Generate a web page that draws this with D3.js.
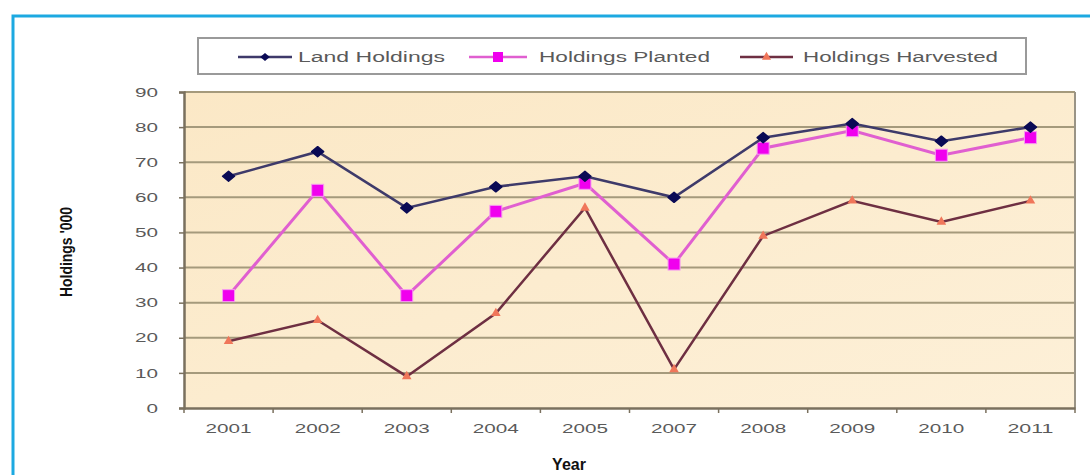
<!DOCTYPE html>
<html><head><meta charset="utf-8">
<script src="https://cdn.jsdelivr.net/npm/d3@7"></script>
<style>
html,body{margin:0;padding:0;background:#fff;}
svg{display:block;font-family:"Liberation Sans",Arial,sans-serif;}
</style></head>
<body>
<svg id="chart" width="1090" height="475"></svg>
<script>
const years = ["2001","2002","2003","2004","2005","2007","2008","2009","2010","2011"];
const landHoldings = [66,73,57,63,66,60,77,81,76,80];
const holdingsPlanted = [32,62,32,56,64,41,74,79,72,77];
const holdingsHarvested = [19,25,9,27,57,11,49,59,53,59];
const yTicks = [0,10,20,30,40,50,60,70,80,90];
const seriesNames = ["Land Holdings","Holdings Planted","Holdings Harvested"];

const svg = d3.select("#chart");
const m = {left:184, top:92, right:1075, bottom:408};

// frame
svg.append("rect").attr("x",13).attr("y",16).attr("width",1100).attr("height",480)
  .attr("fill","#fff").attr("stroke","#1ca9e1").attr("stroke-width",3);

const defs = svg.append("defs");
const grad = defs.append("linearGradient").attr("id","bg").attr("x1",0).attr("y1",0).attr("x2",1).attr("y2",1);
grad.append("stop").attr("offset","0%").attr("stop-color","#fbe8c6");
grad.append("stop").attr("offset","100%").attr("stop-color","#fdf0d8");

const x = d3.scaleBand().domain(years).range([m.left,m.right]);
const y = d3.scaleLinear().domain([0,90]).range([m.bottom,m.top]);

svg.append("rect").attr("x",m.left).attr("y",m.top).attr("width",m.right-m.left).attr("height",m.bottom-m.top)
  .attr("fill","url(#bg)");

// gridlines
svg.append("g").selectAll("line").data(yTicks.filter(d=>d>0)).join("line")
  .attr("x1",m.left).attr("x2",m.right).attr("y1",d=>y(d)).attr("y2",d=>y(d))
  .attr("stroke","#a59a7c").attr("stroke-width",2);
// right border
svg.append("line").attr("x1",m.right).attr("x2",m.right).attr("y1",m.top).attr("y2",m.bottom)
  .attr("stroke","#9a9486").attr("stroke-width",2);

// y axis
const ya = svg.append("g").attr("transform",`translate(${m.left},0)`)
  .call(d3.axisLeft(y).tickValues(yTicks).tickSize(5).tickPadding(21));
ya.select(".domain").attr("stroke","#7a705e").attr("stroke-width",2.5);
ya.selectAll(".tick line").attr("stroke","#7a705e").attr("stroke-width",1.5);
ya.selectAll("text").attr("fill","#5a5a5a").style("font-size","13px")
  .attr("textLength",d=>String(d).length*11.5).attr("lengthAdjust","spacingAndGlyphs");

// x axis
const xa = svg.append("g").attr("transform",`translate(0,${m.bottom})`)
  .call(d3.axisBottom(x).tickSize(0).tickPadding(16));
xa.select(".domain").attr("stroke","#7a705e").attr("stroke-width",2.5);
xa.selectAll("text").attr("fill","#5a5a5a").style("font-size","13px")
  .attr("textLength",46).attr("lengthAdjust","spacingAndGlyphs");
const bounds = years.map(d=>x(d)).concat([m.right]);
xa.append("g").selectAll("line").data(bounds).join("line")
  .attr("x1",d=>d).attr("x2",d=>d).attr("y1",0).attr("y2",5)
  .attr("stroke","#7a705e").attr("stroke-width",1.5);

// axis titles
svg.append("text").attr("transform","translate(72,252) rotate(-90)").attr("text-anchor","middle")
  .style("font-size","16px").style("font-weight","bold").attr("fill","#111")
  .attr("textLength",90).attr("lengthAdjust","spacingAndGlyphs").text("Holdings '000");
svg.append("text").attr("x",569).attr("y",470).attr("text-anchor","middle")
  .style("font-size","16px").style("font-weight","bold").attr("fill","#111").text("Year");

const cx = d => x(d)+x.bandwidth()/2;
const line = d3.line().x((d,i)=>cx(years[i])).y(d=>y(d));
const diamond = "M0,-5L6,0L0,5L-6,0Z";

// harvested
svg.append("path").datum(holdingsHarvested).attr("d",line).attr("fill","none")
  .attr("stroke","#6e2f42").attr("stroke-width",2.5);
svg.append("g").selectAll("path").data(holdingsHarvested).join("path")
  .attr("transform",(d,i)=>`translate(${cx(years[i])},${y(d)})`)
  .attr("d",d3.symbol(d3.symbolTriangle,40)).attr("fill","#f0765a");

// planted
svg.append("path").datum(holdingsPlanted).attr("d",line).attr("fill","none")
  .attr("stroke","#e05fd0").attr("stroke-width",3);
svg.append("g").selectAll("rect").data(holdingsPlanted).join("rect")
  .attr("x",(d,i)=>cx(years[i])-6).attr("y",d=>y(d)-6).attr("width",12).attr("height",12)
  .attr("fill","#f000ee").attr("stroke","#f59bf0").attr("stroke-width",1);

// land
svg.append("path").datum(landHoldings).attr("d",line).attr("fill","none")
  .attr("stroke","#3e3a6a").attr("stroke-width",2.5);
svg.append("g").selectAll("path").data(landHoldings).join("path")
  .attr("transform",(d,i)=>`translate(${cx(years[i])},${y(d)})`)
  .attr("d",diamond).attr("fill","#0a0a55").attr("stroke","#0a0a55").attr("stroke-width",1.5)
  .attr("stroke-linejoin","round");

// legend
const lg = svg.append("g");
lg.append("rect").attr("x",198).attr("y",38).attr("width",828).attr("height",36)
  .attr("fill","#fff").attr("stroke","#9a9a9a").attr("stroke-width",2);
const items = [
  {name:seriesNames[0], x0:238, x1:292, tx:298, tw:147, color:"#3e3a6a", mk:"diamond", mc:"#0a0a55"},
  {name:seriesNames[1], x0:469, x1:527, tx:539, tw:171, color:"#e05fd0", mk:"square", mc:"#f000ee"},
  {name:seriesNames[2], x0:740, x1:793, tx:803, tw:195, color:"#6e2f42", mk:"tri", mc:"#f0765a"}
];
items.forEach(it=>{
  const ly = 57;
  lg.append("line").attr("x1",it.x0).attr("x2",it.x1).attr("y1",ly).attr("y2",ly)
    .attr("stroke",it.color).attr("stroke-width",2.5);
  const mx = (it.x0+it.x1)/2;
  if(it.mk==="square"){
    lg.append("rect").attr("x",mx-5).attr("y",ly-5).attr("width",10).attr("height",10).attr("fill",it.mc);
  } else if(it.mk==="diamond"){
    lg.append("path").attr("transform",`translate(${mx},${ly}) scale(0.8)`).attr("d",diamond).attr("fill",it.mc);
  } else {
    lg.append("path").attr("transform",`translate(${mx},${ly})`)
      .attr("d",d3.symbol(d3.symbolTriangle,36)).attr("fill",it.mc);
  }
  lg.append("text").attr("x",it.tx).attr("y",ly+5).style("font-size","14px")
    .attr("fill","#5a5a5a").attr("textLength",it.tw).attr("lengthAdjust","spacingAndGlyphs").text(it.name);
});
</script>
</body></html>
